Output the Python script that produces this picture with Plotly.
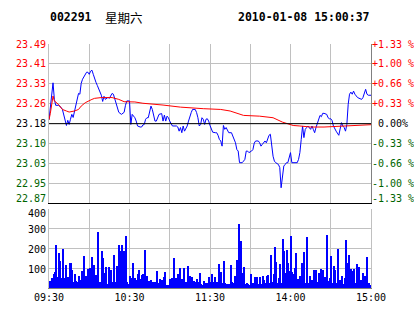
import plotly.graph_objects as go

# ---------------- data ----------------
BASE = 23.18
HEADER_CODE = "002291"
HEADER_DAY = "星期六"
HEADER_TIME = "2010-01-08 15:00:37"

PRICE_MIN = [0, 1, 2, 3, 4, 5, 7, 9, 10, 11, 12, 13, 14, 15, 16, 17, 18, 19, 20, 21, 22, 23, 24, 25,
             26, 27, 28, 29, 30, 31, 32, 33, 34, 35, 36, 37, 38, 39, 40, 41, 42, 44, 45, 46, 47, 48,
             49, 50, 51, 52, 54, 56, 57, 58, 60, 61, 62, 63, 64, 65, 66, 68, 69, 70, 71, 72, 73, 74,
             75, 76, 77, 78, 79, 80, 81, 82, 84, 85, 86, 87, 88, 89, 90, 91, 92, 95, 96, 97, 98, 99,
             100, 101, 102, 103, 104, 105, 106, 107, 109, 110, 111, 112, 113, 114, 115, 116, 117, 118,
             119, 120, 121, 122, 124, 125, 126, 127, 128, 129, 130, 131, 132, 133, 134, 136, 137, 138,
             139, 140, 141, 142, 144, 145, 146, 147, 148, 149, 150, 151, 152, 153, 154, 156, 157, 158,
             159, 160, 161, 162, 163, 164, 165, 166, 167, 168, 169, 171, 172, 173, 174, 175, 176, 177,
             178, 179, 180, 181, 185, 186, 187, 188, 189, 190, 191, 192, 193, 195, 196, 197, 198, 199,
             200, 201, 202, 203, 204, 205, 207, 208, 209, 210, 211, 212, 213, 214, 216, 217, 218, 219,
             220, 221, 222, 223, 224, 225, 226, 227, 228, 230, 232, 233, 234, 235, 236, 237, 238, 240]
PRICE = [23.195, 23.247, 23.301, 23.338, 23.274, 23.251, 23.251, 23.243, 23.235, 23.216, 23.197, 23.173,
         23.193, 23.177, 23.197, 23.216, 23.204, 23.228, 23.259, 23.274, 23.297, 23.294, 23.336, 23.352,
         23.363, 23.371, 23.379, 23.379, 23.371, 23.383, 23.387, 23.371, 23.352, 23.340, 23.328, 23.317,
         23.301, 23.290, 23.266, 23.286, 23.274, 23.282, 23.278, 23.290, 23.297, 23.294,
         23.278, 23.255, 23.239, 23.224, 23.216, 23.224, 23.251, 23.268, 23.268, 23.177, 23.216, 23.209,
         23.203, 23.190, 23.171, 23.167, 23.167, 23.175, 23.177, 23.197, 23.203, 23.203,
         23.229, 23.248, 23.235, 23.216, 23.190, 23.190, 23.203, 23.216, 23.219, 23.190, 23.213, 23.190,
         23.209, 23.203, 23.190, 23.177, 23.171, 23.171, 23.167, 23.151, 23.165, 23.145,
         23.171, 23.151, 23.160, 23.171, 23.190, 23.209, 23.223, 23.235, 23.235, 23.223, 23.203, 23.171,
         23.177, 23.203, 23.197, 23.177, 23.197, 23.199,
         23.190, 23.173, 23.158, 23.147, 23.145, 23.145, 23.135, 23.119, 23.113, 23.093, 23.173, 23.158,
         23.165, 23.151, 23.145, 23.145, 23.132, 23.119,
         23.106, 23.080, 23.074, 23.029, 23.029, 23.035, 23.042, 23.074, 23.074, 23.068, 23.070, 23.074,
         23.080, 23.105, 23.113, 23.113, 23.106, 23.093,
         23.100, 23.106, 23.113, 23.106, 23.126, 23.135, 23.139, 23.085, 23.054, 23.035, 23.029, 23.022,
         23.010, 22.932, 22.990, 23.016, 23.022, 23.029,
         23.029, 23.048, 23.068, 23.029, 23.029, 23.042, 23.068, 23.119, 23.171, 23.126, 23.158, 23.165,
         23.171, 23.158, 23.171, 23.158, 23.145, 23.165,
         23.184, 23.197, 23.212, 23.207, 23.220, 23.220, 23.216, 23.203, 23.199, 23.199, 23.192, 23.171,
         23.158, 23.151, 23.135, 23.155, 23.184, 23.171,
         23.165, 23.151, 23.177, 23.255, 23.294, 23.302, 23.294, 23.306, 23.294, 23.281, 23.277, 23.274,
         23.281, 23.294, 23.313, 23.294, 23.290, 23.290]

AVG_MIN = [0, 1, 3, 4, 7, 10, 13, 15, 19, 22, 24, 27, 32, 34, 39, 47, 52, 56, 64, 70, 85, 98, 115, 128,
           135, 140, 145, 157, 167, 174, 177, 182, 187, 195, 205, 222, 230, 240]
AVG = [23.195, 23.220, 23.287, 23.268, 23.255, 23.235, 23.229, 23.225, 23.229, 23.235, 23.248, 23.261,
       23.274, 23.278, 23.281, 23.281, 23.274, 23.265, 23.264, 23.259, 23.252, 23.244, 23.238, 23.235,
       23.229, 23.220, 23.212, 23.209, 23.203, 23.186, 23.180, 23.173, 23.171, 23.167, 23.167, 23.171,
       23.173, 23.176]

VOLUME = [35, 18, 47, 68, 80, 218, 52, 177, 135, 47, 197, 47, 113, 13, 52, 123, 127, 90, 30, 68,
          35, 30, 60, 40, 85, 18, 160, 60, 10, 97, 102, 67, 155, 113, 17, 67, 285, 30, 30, 185,
          150, 73, 105, 18, 105, 63, 90, 27, 168, 27, 110, 107, 218, 185, 218, 185, 185, 263, 30, 20,
          60, 47, 123, 27, 47, 40, 68, 90, 43, 65, 68, 190, 30, 60, 35, 23, 40, 27, 18, 30,
          85, 23, 43, 13, 40, 52, 80, 13, 13, 13, 43, 47, 23, 152, 47, 18, 68, 102, 23, 43,
          102, 23, 27, 110, 47, 57, 52, 23, 35, 30, 43, 27, 77, 18, 13, 35, 13, 23, 23, 52,
          30, 68, 30, 52, 18, 27, 118, 57, 80, 23, 135, 23, 17, 13, 18, 115, 27, 23, 57, 57,
          140, 323, 13, 235, 73, 105, 17, 23, 17, 13, 68, 17, 23, 52, 17, 52, 17, 52, 18, 57,
          40, 23, 57, 63, 23, 168, 30, 68, 207, 130, 23, 47, 118, 23, 250, 185, 77, 193, 127, 85,
          263, 80, 68, 102, 177, 43, 30, 57, 123, 60, 180, 23, 260, 23, 60, 27, 40, 90, 30, 90,
          30, 73, 93, 18, 90, 52, 35, 268, 35, 47, 160, 23, 110, 90, 23, 197, 40, 40, 60, 18,
          47, 240, 127, 168, 30, 97, 85, 93, 23, 118, 52, 107, 40, 27, 77, 57, 30, 157, 23, 13, 97]

TIME_TICKS = [0, 30, 60, 90, 120, 150, 180, 210, 240]
TIME_LABELS = ["09:30", "", "10:30", "", "11:30", "", "14:00", "", "15:00"]
PRICE_LABELS = ["23.49", "23.41", "23.33", "23.26", "23.18", "23.10", "23.03", "22.95", "22.87"]
PCT_LABELS = ["+1.33 %", "+1.00 %", "+0.66 %", "+0.33 %", "\u00a00.00%",
              "-0.33 %", "-0.66 %", "-1.00 %", "-1.33 %"]
VOL_TICKS = [100, 200, 300, 400]
VOL_LABELS = ["100", "200", "300", "400"]

# ---------------- style ----------------
MONO = "DejaVu Sans Mono"
RED = "#FF0000"
GREEN = "#006400"
GRID = "#C0C0C0"
STEP = 0.0133 / 4
levels = [BASE * (1 + k * STEP) for k in range(4, -5, -1)]
lo, hi = levels[-1], levels[0]

fig = go.Figure()
fig.add_trace(go.Scatter(x=PRICE_MIN, y=PRICE, mode="lines",
                         line=dict(color="#0000FF", width=1), xaxis="x", yaxis="y",
                         hoverinfo="skip"))
fig.add_trace(go.Scatter(x=AVG_MIN, y=AVG, mode="lines",
                         line=dict(color="#FF0000", width=1), xaxis="x", yaxis="y",
                         hoverinfo="skip"))
fig.add_trace(go.Scatter(x=[0, 240], y=[BASE, BASE], mode="lines", xaxis="x", yaxis="y2",
                         line=dict(color="rgba(0,0,0,0)", width=0), hoverinfo="skip"))
fig.add_trace(go.Bar(x=list(range(len(VOLUME))), y=VOLUME, xaxis="x2", yaxis="y3",
                     width=0.75, offset=0,
                     marker=dict(color="#0000FF", line=dict(width=0)), hoverinfo="skip"))

P_DOM = [0.347, 1.0]
V_DOM = [0.0, 0.3225]

fig.update_layout(
    width=414, height=314,
    margin=dict(l=49, r=43, t=44, b=26),
    paper_bgcolor="white", plot_bgcolor="white",
    showlegend=False,
    font=dict(family=MONO, size=10, color="black"),
    bargap=0,
    xaxis=dict(domain=[0, 1], anchor="y", range=[0, 240], tickvals=TIME_TICKS,
               showticklabels=False, ticks="", showgrid=True, gridcolor=GRID, gridwidth=1,
               zeroline=False, showline=True, linecolor="black", linewidth=1),
    yaxis=dict(domain=P_DOM, anchor="x", range=[lo, hi], tickvals=levels,
               showticklabels=False, ticks="", showgrid=True, gridcolor=GRID, gridwidth=1,
               zeroline=False, showline=True, linecolor=GRID, linewidth=1),
    yaxis2=dict(domain=P_DOM, anchor="x", overlaying="y", side="right", range=[lo, hi],
                showticklabels=False, ticks="", showgrid=False, zeroline=False,
                showline=True, linecolor="#808080", linewidth=1),
    xaxis2=dict(domain=[0, 1], anchor="y3", range=[0, 240], tickvals=TIME_TICKS,
                ticktext=TIME_LABELS, ticks="", showgrid=True, gridcolor=GRID, gridwidth=1,
                zeroline=False, showline=True, linecolor="#808080", linewidth=1,
                tickfont=dict(family=MONO, size=10, color="black")),
    yaxis3=dict(domain=V_DOM, anchor="x2", range=[0, 400], tickvals=VOL_TICKS,
                showticklabels=False, ticks="", showgrid=True, gridcolor=GRID, gridwidth=1,
                zeroline=False, showline=True, linecolor=GRID, linewidth=1, mirror=True),
)

# base-price line
fig.add_shape(type="line", xref="x domain", yref="y", x0=0, x1=1, y0=BASE, y1=BASE,
              line=dict(color="black", width=1))

anns = []
n = len(levels)
for i, (lv, pl, pc) in enumerate(zip(levels, PRICE_LABELS, PCT_LABELS)):
    col = RED if lv > BASE + 1e-9 else ("black" if abs(lv - BASE) < 1e-9 else GREEN)
    ys = 5 if i == n - 1 else 0
    anns.append(dict(xref="paper", yref="y", x=0, y=lv, text=pl, showarrow=False,
                     xanchor="right", yanchor="middle", xshift=-1, yshift=ys,
                     font=dict(family=MONO, size=10, color=col)))
    anns.append(dict(xref="paper", yref="y", x=1, y=lv, text=pc, showarrow=False,
                     xanchor="left", yanchor="middle", xshift=-1, yshift=ys,
                     font=dict(family=MONO, size=10, color=col)))
for v, t in zip(VOL_TICKS, VOL_LABELS):
    anns.append(dict(xref="paper", yref="y3", x=0, y=v, text=t, showarrow=False,
                     xanchor="right", yanchor="middle", xshift=-1,
                     yshift=-4 if v == 400 else -1,
                     font=dict(family=MONO, size=10, color="black")))

HY = 1 + 27 / 244
anns.append(dict(xref="paper", yref="paper", x=0, y=HY, text="<b>" + HEADER_CODE + "</b>",
                 showarrow=False, xanchor="left", yanchor="middle", xshift=-1,
                 font=dict(family=MONO, size=11.5, color="black")))
anns.append(dict(xref="paper", yref="paper", x=56 / 322, y=HY, text=HEADER_DAY,
                 showarrow=False, xanchor="left", yanchor="middle", xshift=-2,
                 font=dict(family="Noto Sans CJK SC", size=12.5, color="black")))
anns.append(dict(xref="paper", yref="paper", x=1, y=HY, text="<b>" + HEADER_TIME + "</b>",
                 showarrow=False, xanchor="right", yanchor="middle", xshift=1,
                 font=dict(family=MONO, size=11.5, color="black")))
fig.update_layout(annotations=anns)

fig.write_html("out.html")
